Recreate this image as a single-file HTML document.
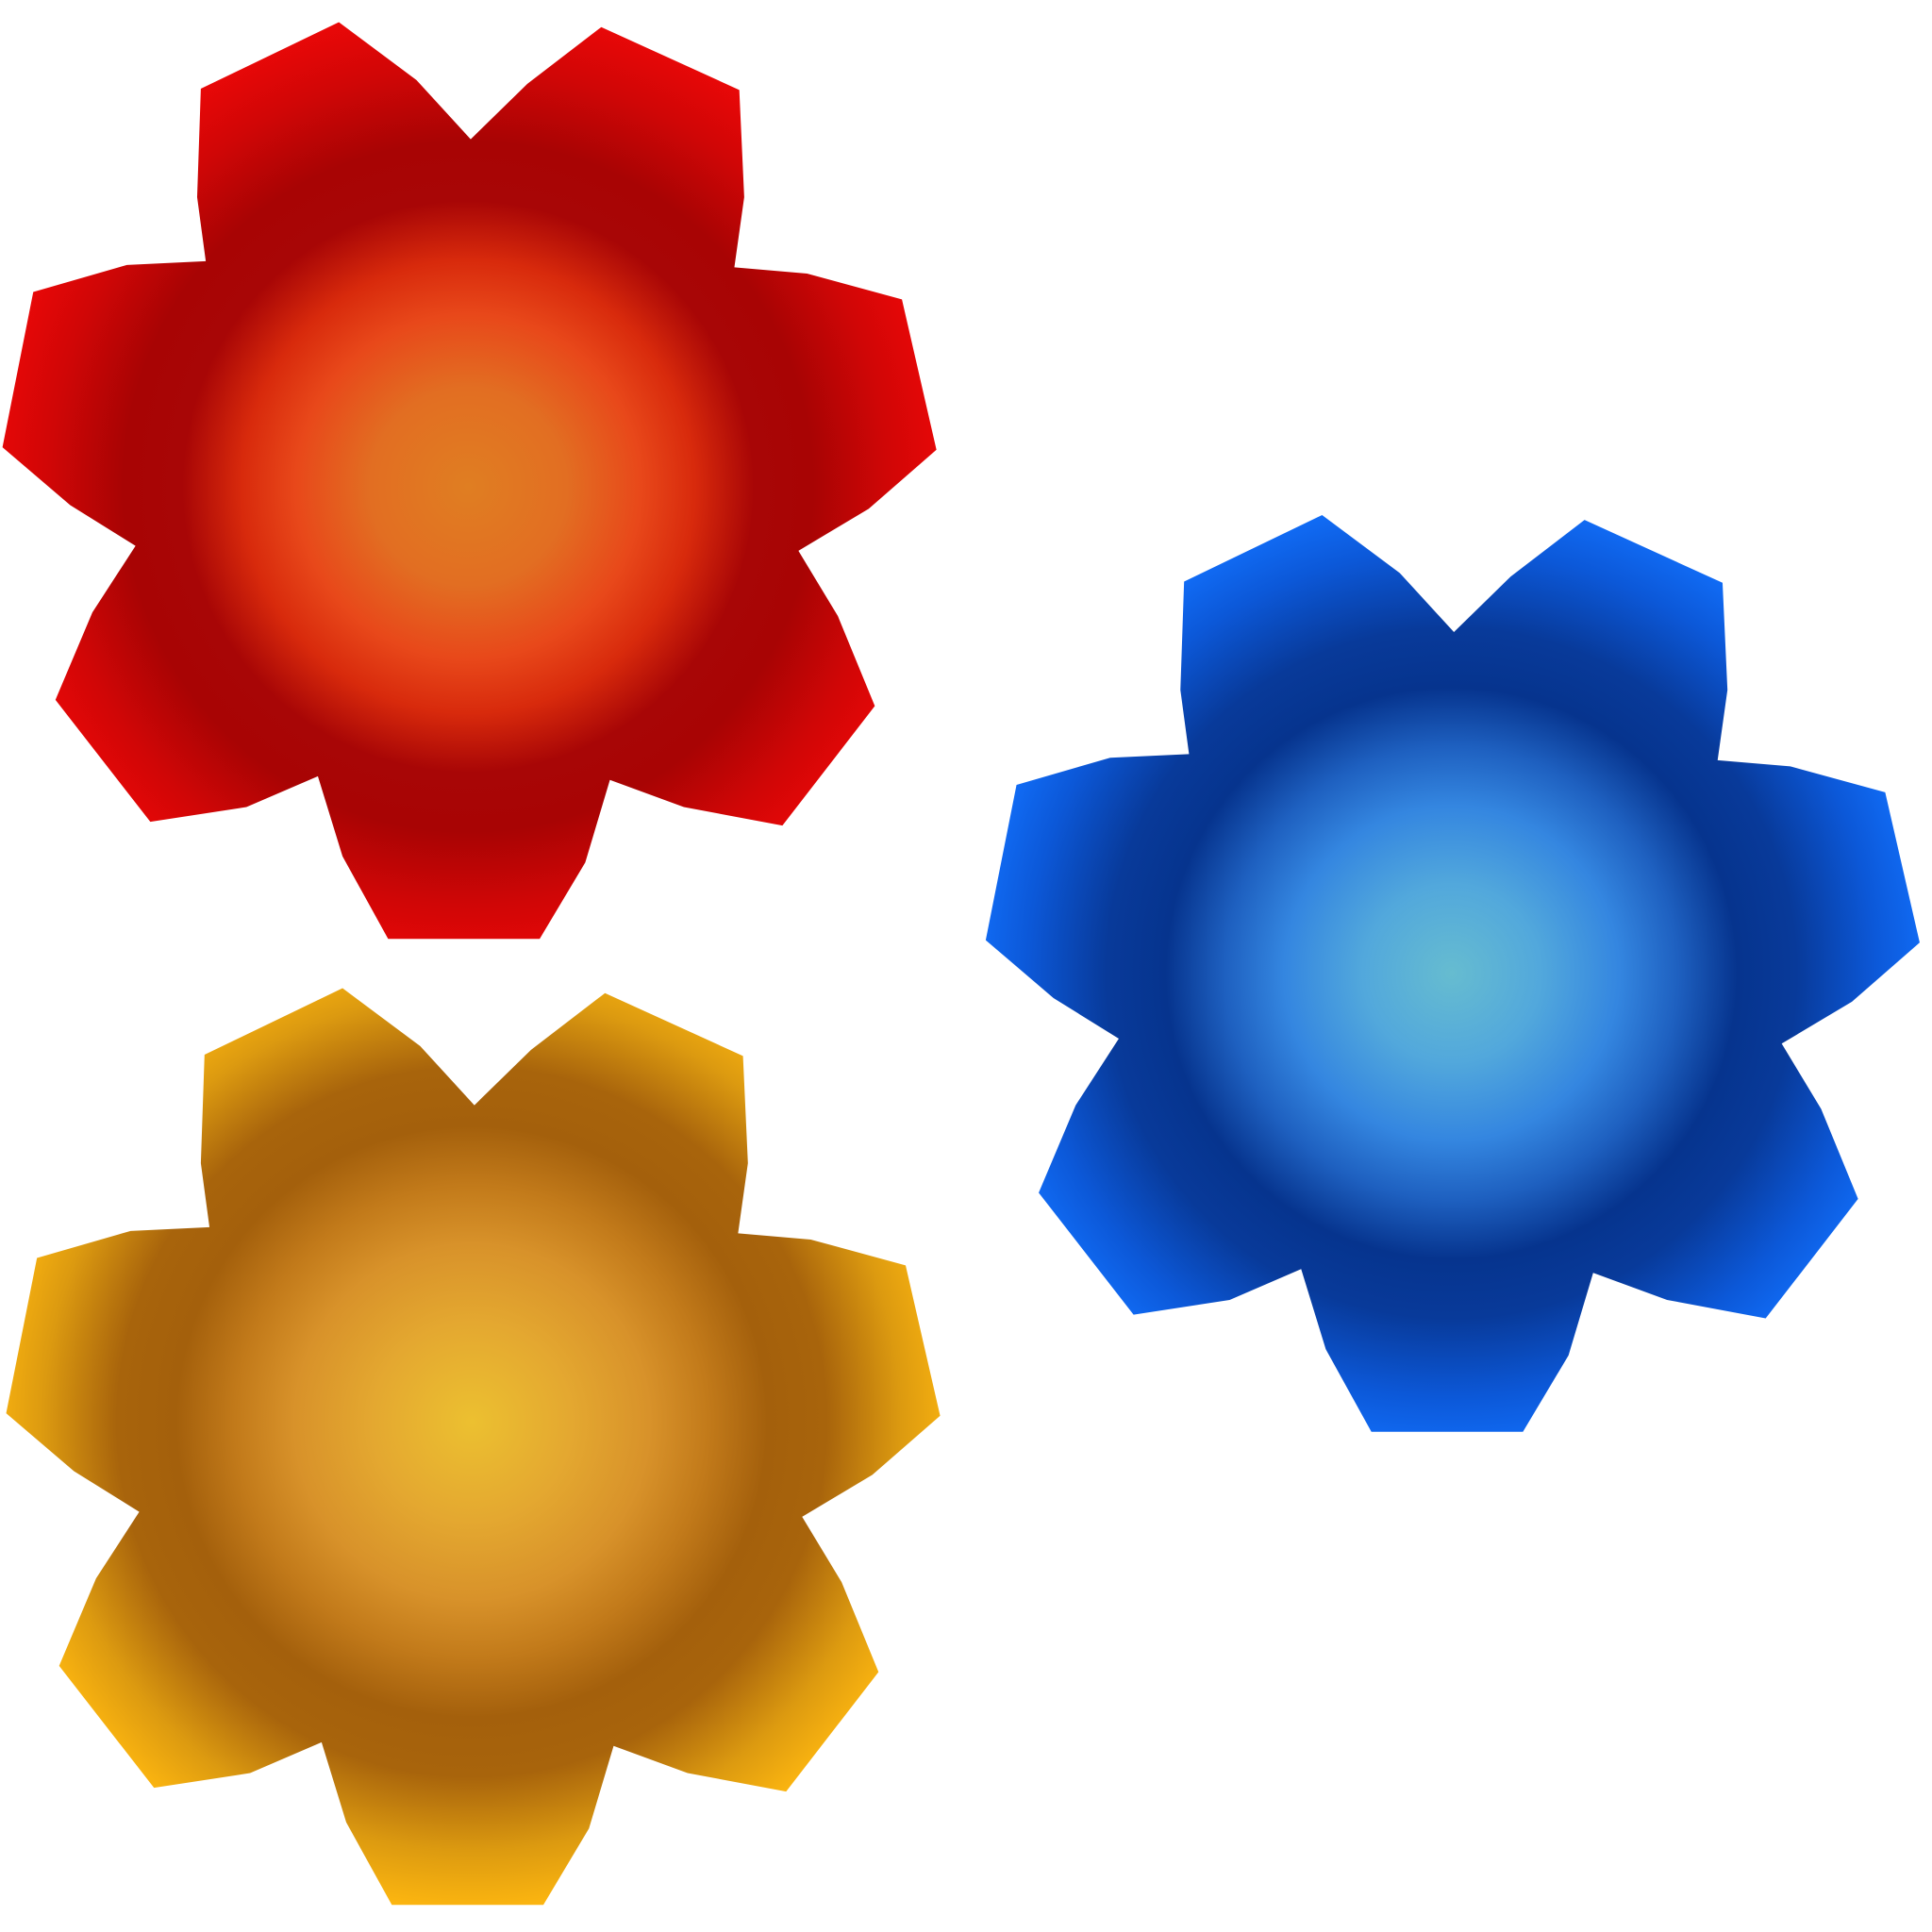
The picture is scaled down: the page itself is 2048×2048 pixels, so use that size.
<!DOCTYPE html>
<html><head><meta charset="utf-8"><style>
html,body{margin:0;padding:0;background:#fff;width:2048px;height:2048px;overflow:hidden}
svg{display:block}
</style></head><body>
<svg width="2048" height="2048" viewBox="0 0 1568 1568">
<defs>
<path id="star" d="M275,18 L338,65 L382,113 L428,68 L488,22 L600,73 L604,160 L596,217 L655,222 L732,243 L760,365 L705,413 L648,447 L680,500 L710,573 L635,670 L555,655 L495,633 L475,700 L438,762 L315,762 L278,695 L258,630 L200,655 L122,667 L45,568 L75,497 L110,443 L57,410 L2,363 L27,237 L103,215 L167,212 L160,160 L163,72 Z"/>
<radialGradient id="gr" gradientUnits="userSpaceOnUse" cx="380" cy="395" r="400">
<stop offset="0" stop-color="#e07e22"/><stop offset="0.2" stop-color="#e26e22"/><stop offset="0.35" stop-color="#e8481a"/><stop offset="0.46" stop-color="#d82a0c"/><stop offset="0.58" stop-color="#a80606"/><stop offset="0.7" stop-color="#a80404"/><stop offset="0.85" stop-color="#d00606"/><stop offset="1" stop-color="#ee0808"/>
</radialGradient>
<radialGradient id="gy" gradientUnits="userSpaceOnUse" cx="380" cy="370" r="400">
<stop offset="0" stop-color="#ecc030"/><stop offset="0.2" stop-color="#e4a830"/><stop offset="0.36" stop-color="#d8922a"/><stop offset="0.48" stop-color="#c27a1a"/><stop offset="0.6" stop-color="#a4600c"/><stop offset="0.72" stop-color="#a8640c"/><stop offset="0.87" stop-color="#dc9a10"/><stop offset="1" stop-color="#ffb810"/>
</radialGradient>
<radialGradient id="gb" gradientUnits="userSpaceOnUse" cx="380" cy="390" r="400">
<stop offset="0" stop-color="#66bcd0"/><stop offset="0.18" stop-color="#52a8dc"/><stop offset="0.34" stop-color="#3486e0"/><stop offset="0.46" stop-color="#1e60c0"/><stop offset="0.58" stop-color="#06348e"/><stop offset="0.7" stop-color="#083a9a"/><stop offset="0.86" stop-color="#0c58d8"/><stop offset="1" stop-color="#1272ff"/>
</radialGradient>
</defs>
<use href="#star" fill="url(#gr)"/>
<use href="#star" fill="url(#gy)" transform="translate(3,784)"/>
<use href="#star" fill="url(#gb)" transform="translate(798,400)"/>
</svg>
</body></html>
